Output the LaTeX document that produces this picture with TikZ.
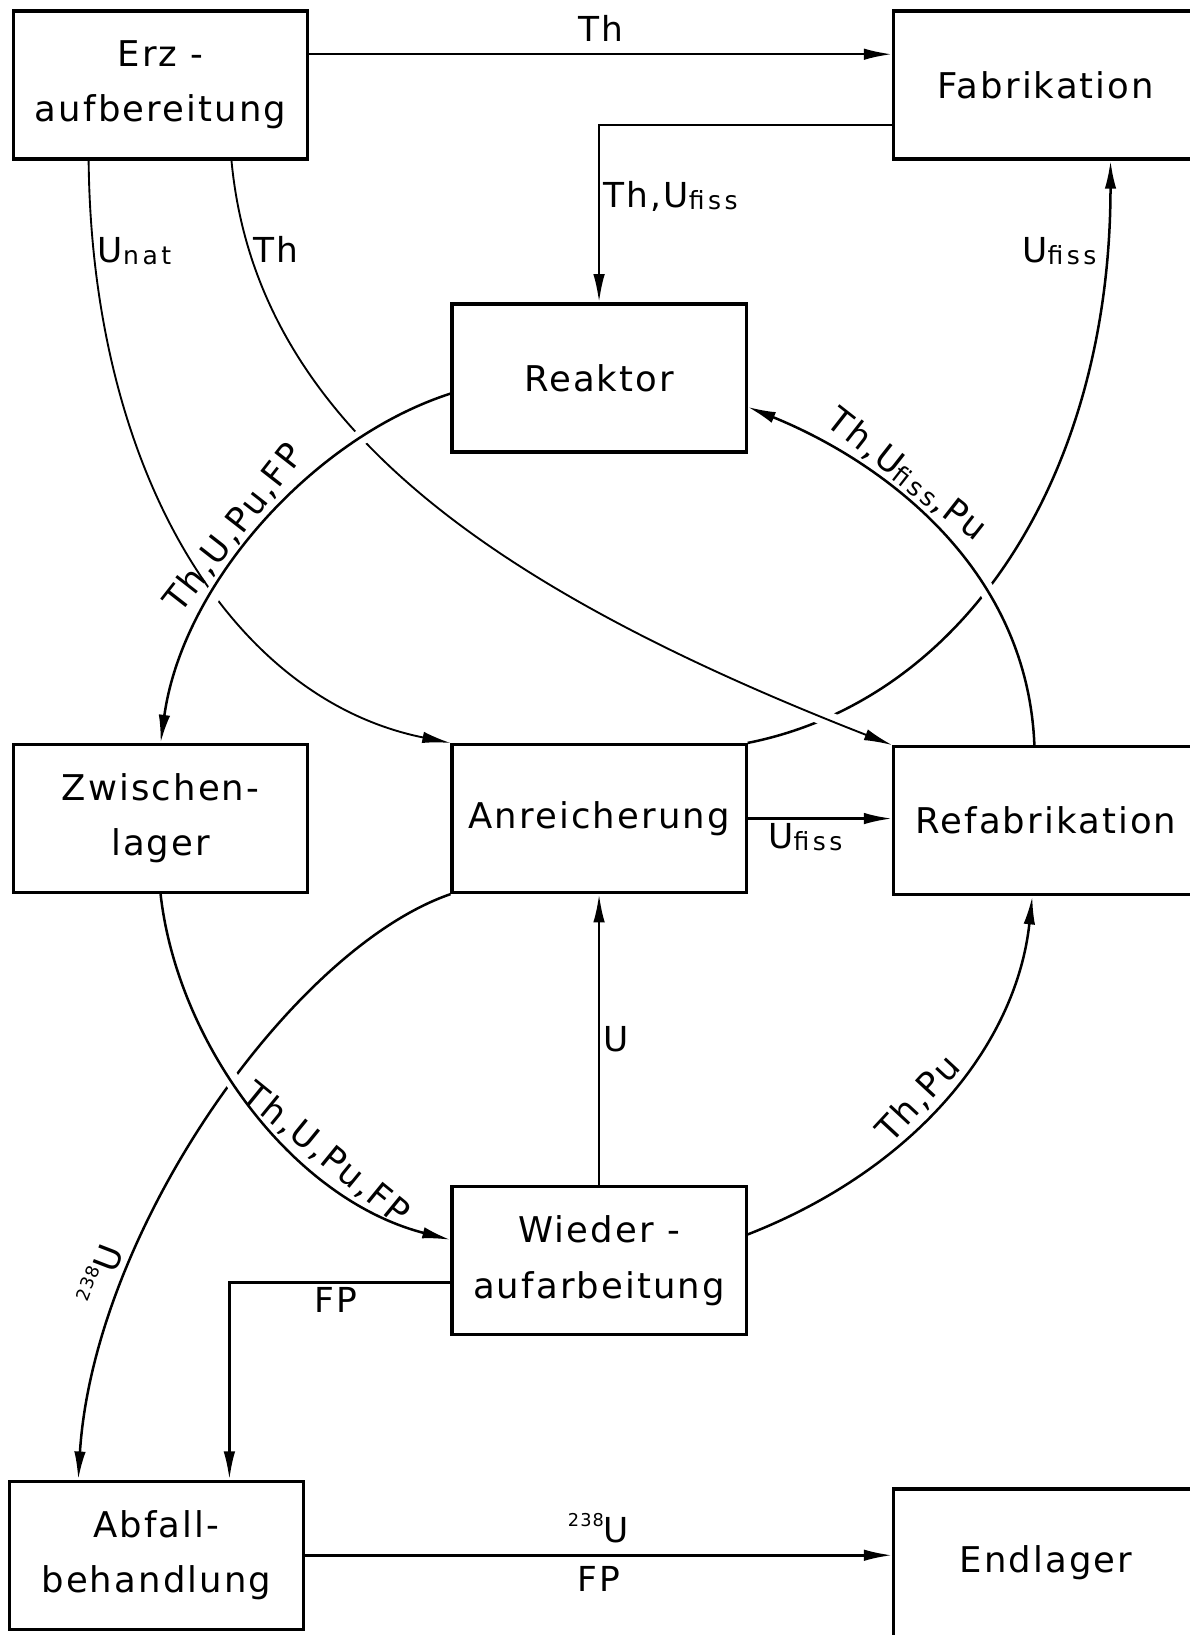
\documentclass[tikz,border=0pt]{standalone}
\usepackage{fontspec}
\setmainfont{DejaVu Sans}[LetterSpace=6]
\usetikzlibrary{arrows.meta}

\pgfdeclarelayer{bg}
\pgfsetlayers{bg,main}

\newcommand{\sbs}[1]{\raisebox{-2pt}{\fontsize{24}{24}\selectfont\addfontfeatures{LetterSpace=14}#1}}
\newcommand{\sps}[1]{\raisebox{16pt}{\fontsize{17}{17}\selectfont #1}}

\begin{document}
\begin{tikzpicture}[x=1pt,y=-1pt,>={Latex[length=27pt,width=11pt]},
    box/.style={draw,line width=3pt,minimum width=282pt,minimum height=142pt,
                align=center,font=\fontsize{34}{53}\selectfont},
    rbox/.style={box,minimum width=292pt},
    flow/.style={->,line width=2.4pt},
    thin flow/.style={flow,line width=1.8pt},
    over/.style={preaction={draw,white,line width=15pt,arrows=-}}]

  \useasboundingbox (0,0) rectangle (1141,1568);

  \node[box]  (erz)  at (154,81.5)    {Erz -\\aufbereitung};
  \node[rbox] (fab)  at (1003,81.5)   {Fabrikation};
  \node[box]  (rea)  at (574.5,362.5) {Reaktor};
  \node[box]  (zwi)  at (154,785)     {Zwischen-\\lager};
  \node[box]  (anr)  at (574.5,785)   {Anreicherung};
  \node[rbox] (ref)  at (1003,787)    {Refabrikation};
  \node[box]  (wie)  at (574.5,1209)  {Wieder -\\aufarbeitung};
  \node[box]  (abf)  at (150,1491.5)  {Abfall-\\behandlung};
  \node[rbox] (endl) at (1003,1499)   {Endlager};

  \begin{pgfonlayer}{bg}
  \begin{scope}[every node/.style={font=\fontsize{33}{33}\selectfont}]
    % straight flows
    \draw[flow] ([yshift=29.5pt]erz.east) -- ([yshift=29.5pt]erz.east -| fab.west)
      node[midway,above=8pt] {Th};
    \draw[flow] ([yshift=-38.5pt]fab.west) -| (rea.north)
      node[pos=0.7,right] {Th,U\sbs{fiss}};
    \draw[flow] (anr.east) -- (anr.east -| ref.west)
      node[pos=0.4,below] {U\sbs{fiss}};
    \draw[flow] (wie.north) -- (anr.south) node[midway,right] {U};
    \draw[flow] ([yshift=-21pt]wie.west) -| ([xshift=70pt]abf.north)
      node[pos=0.26,below] {FP};
    \draw[flow] (abf.east) -- (abf.east -| endl.west)
      node[midway,above=7pt] {\sps{238}U}
      node[midway,below=6pt] {FP};

    % curved flows, the ones drawn later break the earlier ones
    \draw[flow] (anr.north east) .. controls (930,670) and (1065,450) .. ([xshift=62pt]fab.south)
      node[pos=0.9,left=5pt] {U\sbs{fiss}};
    \draw[thin flow] ([xshift=-69pt]erz.south) .. controls (88,450) and (220,670) .. (anr.north west)
      node[pos=0.1,right] {U\sbs{nat}};
    \draw[flow] (anr.south west) .. controls (280,910) and (90,1180) .. ([xshift=-75pt]abf.north)
      node[pos=0.74,sloped,above=5pt] {\sps{238}U};
    \draw[flow] (wie.10) .. controls (880,1120) and (975,1000) .. ([xshift=-13pt]ref.south)
      node[pos=0.45,sloped,above] {Th,Pu};
    \draw[flow,over] ([xshift=-11pt]ref.north) .. controls (985,540) and (840,440) .. (rea.-11)
      node[pos=0.62,sloped,above] {Th,U\sbs{fiss},Pu};
    \draw[thin flow,over] ([xshift=68pt]erz.south) .. controls (245,400) and (460,560) .. (ref.north west)
      node[pos=0.12,right] {Th};
    \draw[flow,over] (rea.186) .. controls (300,420) and (175,560) .. (zwi.north)
      node[pos=0.54,sloped,above] {Th,U,Pu,FP};
    \draw[flow,over] (zwi.south) .. controls (170,1000) and (280,1150) .. (wie.172)
      node[pos=0.68,sloped,above] {Th,U,Pu,FP};
  \end{scope}
  \end{pgfonlayer}
\end{tikzpicture}
\end{document}
